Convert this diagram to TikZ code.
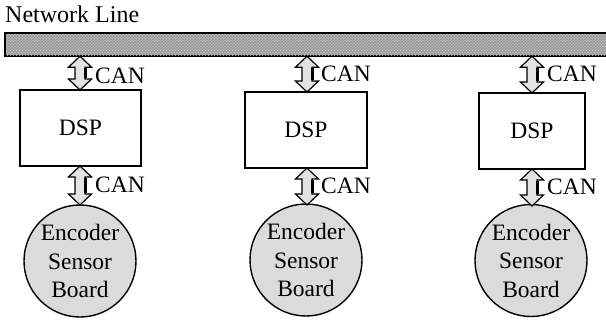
\documentclass[tikz,border=0pt]{standalone}
\usepackage{fontspec}
\setmainfont{Liberation Serif}
\usetikzlibrary{patterns,calc}
\tikzset{
  lbl/.style={font=\fontsize{23.5}{28.5}\selectfont, inner sep=0pt},
  netbar/.style={draw, line width=1.2pt, fill=gray!50, anchor=north west, inner sep=0pt},
  dspbox/.style={draw, line width=1.2pt, minimum height=76pt, font=\fontsize{23.5}{28.5}\selectfont},
  esbcirc/.style={draw, circle, line width=1.4pt, fill=gray!28, minimum size=112pt, inner sep=0pt,
    align=center, font=\fontsize{23.5}{28.5}\selectfont},
  canarr/.style={draw, line width=1.2pt, fill=gray!22, line join=miter},
}
\newcommand\blockarrow[2]{%
  \draw[canarr] let \p1=(#1), \p2=(#2) in
   (\x1,\y1) -- (\x1+11.5pt,\y1-11pt) -- (\x1+5pt,\y1-11pt) -- (\x1+5pt,\y2+11pt)
   -- (\x1+11.5pt,\y2+11pt) -- (\x2,\y2) -- (\x1-11.5pt,\y2+11pt) -- (\x1-5pt,\y2+11pt)
   -- (\x1-5pt,\y1-11pt) -- (\x1-11.5pt,\y1-11pt) -- cycle;
  \draw[line width=2.2pt] let \p1=(#1), \p2=(#2) in
   (\x1+5.5pt,\y1-12pt) -- (\x1+5.5pt,\y2+12pt);
}
\begin{document}
\begin{tikzpicture}[x=1pt,y=-1pt]
\useasboundingbox (0,0) rectangle (606,324);
\node[lbl, anchor=base west, font=\fontsize{24}{28}\selectfont] (title) at (5,23) {Network Line};
\node[netbar, minimum width=605pt, minimum height=22pt] (bar) at (5,33) {};
\fill[pattern=crosshatch, pattern color=gray!85] (bar.north west) rectangle (bar.south east);
\draw[line width=1.2pt] (bar.north west) rectangle (bar.south east);
\draw[line width=1.6pt] (bar.north west) -- (bar.north east);

\node[dspbox, minimum width=121pt] (dsp1) at (80.5,128) {DSP};
\node[dspbox, minimum width=122pt] (dsp2) at (306,130) {DSP};
\node[dspbox, minimum width=106pt] (dsp3) at (532,131) {DSP};

\node[esbcirc] (esb1) at (80,261) {Encoder\\Sensor\\Board};
\node[esbcirc] (esb2) at (306,260) {Encoder\\Sensor\\Board};
\node[esbcirc] (esb3) at (531,260.5) {Encoder\\Sensor\\Board};

\coordinate (t1) at (bar.south -| 80,0);
\coordinate (t2) at (bar.south -| 307,0);
\coordinate (t3) at (bar.south -| 532,0);
\coordinate (d1t) at (80,90);
\coordinate (d2t) at (307,92);
\coordinate (d3t) at (532,93);
\coordinate (d1b) at (80,166);
\coordinate (d2b) at (307,168);
\coordinate (d3b) at (532,169);
\coordinate (e1t) at (80,205);
\coordinate (e2t) at (307,205);
\coordinate (e3t) at (532,206);

\blockarrow{t1}{d1t}
\blockarrow{t2}{d2t}
\blockarrow{t3}{d3t}
\blockarrow{d1b}{e1t}
\blockarrow{d2b}{e2t}
\blockarrow{d3b}{e3t}

\node[lbl, anchor=west] (c1) at (95,76) {CAN};
\node[lbl, anchor=west] (c2) at (321,74) {CAN};
\node[lbl, anchor=west] (c3) at (547,74) {CAN};
\node[lbl, anchor=west] (c4) at (95,185) {CAN};
\node[lbl, anchor=west] (c5) at (321,186) {CAN};
\node[lbl, anchor=west] (c6) at (547,187) {CAN};
\end{tikzpicture}
\end{document}
